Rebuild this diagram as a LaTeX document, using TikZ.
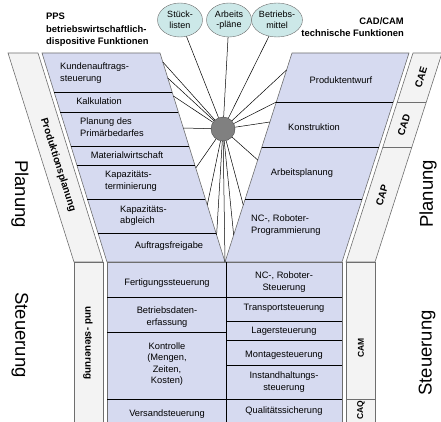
\documentclass[tikz,border=0pt]{standalone}
\usepackage{fontspec}
\setmainfont{Liberation Sans}
\usetikzlibrary{calc,shapes.geometric}
\definecolor{lilac}{RGB}{214,218,240}
\definecolor{bandc}{RGB}{243,243,243}
\definecolor{edgec}{RGB}{110,110,110}
\definecolor{tealc}{RGB}{204,232,232}
\definecolor{hubc}{RGB}{128,128,128}
\definecolor{darkc}{RGB}{70,70,70}
\begin{document}
\begin{tikzpicture}[x=1pt,y=-1pt,
  frame/.style={draw=edgec, line width=0.6pt},
  rowline/.style={draw=black, line width=0.6pt},
  lbl/.style={font=\fontsize{9.3}{11.5}\selectfont, align=center, inner sep=0pt},
  lbll/.style={lbl, align=left, anchor=west},
  bandtxt/.style={font=\bfseries\fontsize{10}{12}\selectfont, inner sep=0pt},
  smallband/.style={font=\bfseries\fontsize{8.5}{10}\selectfont, inner sep=0pt},
  bigtxt/.style={font=\fontsize{18.5}{20}\selectfont, inner sep=0pt},
  headtxt/.style={font=\bfseries\fontsize{9.4}{12.5}\selectfont, inner sep=0pt},
  ell/.style={ellipse, draw=edgec, fill=tealc, minimum width=45pt, minimum height=34pt, inner sep=0pt, align=center, font=\fontsize{9}{10.5}\selectfont},
  spoke/.style={draw=black, line width=0.5pt},
  hubst/.style={circle, draw=darkc, fill=hubc, minimum size=24pt, inner sep=0pt}]
\useasboundingbox (0,0) rectangle (441,422);
\clip (0,0) rectangle (441,422);

% ---- upper part: bands and parallelograms
\draw[frame, fill=bandc] (8,53) -- (38,53) -- (103,262) -- (74,262) -- cycle;
\draw[frame, fill=lilac] (42,53) -- (160,53) -- (225,262) -- (107,262) -- cycle;
\draw[frame, fill=lilac] (292,53) -- (409,53) -- (342,262) -- (225,262) -- cycle;
\draw[frame, fill=bandc] (413,53) -- (442,53) -- (375,262) -- (346,262) -- cycle;

\foreach \y in {92,112,146,165,199,233}
  \draw[rowline] ({42+65/209*(\y-53)},\y) -- ({160+65/209*(\y-53)},\y);
\foreach \y in {102,147,199}
  \draw[rowline] ({292-67/209*(\y-53)},\y) -- ({409-67/209*(\y-53)},\y);
\foreach \y in {102,147}
  \draw[frame] ({413-67/209*(\y-53)},\y) -- ({442-67/209*(\y-53)},\y);

% ---- lower part
\draw[frame, fill=bandc] (74,262) rectangle (103,430);
\draw[frame, fill=lilac] (107,262) rectangle (342,430);
\draw[frame, fill=bandc] (346,262) rectangle (375,430);
\draw[rowline] (226,262) -- (226,430);
\foreach \y in {297,332,399}
  \draw[rowline] (107,\y) -- (226,\y);
\foreach \y in {297,321,340,365,399}
  \draw[rowline] (226,\y) -- (342,\y);
\draw[frame] (346,399) -- (375,399);

% ---- hub, ellipses and spokes
\node[hubst] (hub) at (223,129) {};
\node[ell] (stueck) at (180,20) {Stück-\\listen};
\node[ell] (arbeit) at (229,20) {Arbeits\\-pläne};
\node[ell] (betrieb) at (277,20) {Betriebs-\\mittel};
\foreach \n in {stueck,arbeit,betrieb}
  \draw[spoke] (hub) -- (\n);
\foreach \y in {62,78,96,128,168,205,235}
  \coordinate (L\y) at ({160+65/209*(\y-53)},\y);
\foreach \y in {70,102,122,160,205,235}
  \coordinate (R\y) at ({292-67/209*(\y-53)},\y);
\coordinate (tip) at (225,262);
\foreach \y in {62,78,96,128,168,205,235}
  \draw[spoke] (hub) -- (L\y);
\foreach \y in {70,102,122,160,205,235}
  \draw[spoke] (hub) -- (R\y);
\draw[spoke] (hub) -- (tip);

% ---- headings
\node[headtxt, align=left, anchor=west] (pps) at (46,30) {PPS\\betriebswirtschaftlich-\\dispositive Funktionen};
\node[headtxt, align=right, anchor=east] (cad) at (404,27) {CAD/CAM\\technische Funktionen};

% ---- row labels upper left
\node[lbll] (t1) at (60,73) {Kundenauftrags-\\steuerung};
\node[lbl] (t2) at (99,101) {Kalkulation};
\node[lbll] (t3) at (80,127) {Planung des\\Primärbedarfes};
\node[lbl] (t4) at (127,155) {Materialwirtschaft};
\node[lbll] (t5) at (105,181) {Kapazitäts-\\terminierung};
\node[lbll] (t6) at (120,215.5) {Kapazitäts-\\abgleich};
\node[lbl] (t7) at (169,246) {Auftragsfreigabe};

% ---- row labels upper right
\node[lbl] (r1) at (341,80) {Produktentwurf};
\node[lbl] (r2) at (314,127) {Konstruktion};
\node[lbl] (r3) at (302,173) {Arbeitsplanung};
\node[lbll] (r4) at (251,225) {NC-, Roboter-\\Programmierung};

% ---- lower labels
\node[lbl] (b1) at (167,283) {Fertigungssteuerung};
\node[lbl] (b2) at (167,317) {Betriebsdaten-\\erfassung};
\node[lbl] (b3) at (167,364) {Kontrolle\\(Mengen,\\Zeiten,\\Kosten)};
\node[lbl] (b4) at (167,414) {Versandsteuerung};
\node[lbl] (c1) at (284,282) {NC-, Roboter-\\Steuerung};
\node[lbl] (c2) at (284,308) {Transportsteuerung};
\node[lbl] (c3) at (284,331) {Lagersteuerung};
\node[lbl] (c4) at (284,355) {Montagesteuerung};
\node[lbl] (c5) at (284,382) {Instandhaltungs-\\steuerung};
\node[lbl] (c6) at (284,411) {Qualitätssicherung};

% ---- band labels
\node[bandtxt, rotate=-72.5] (bpp) at (58,165) {Produktionsplanung};
\node[bandtxt, rotate=-90] (bus) at (88,343) {und -steuerung};
\node[bandtxt, rotate=72.3] (bcae) at (421,77) {CAE};
\node[bandtxt, rotate=72.3] (bcad) at (404,125) {CAD};
\node[bandtxt, rotate=72.3] (bcap) at (382,195) {CAP};
\node[smallband, rotate=90] (bcam) at (361,348) {CAM};
\node[smallband, rotate=90] (bcaq) at (361,410) {CAQ};

% ---- big side labels
\node[bigtxt, rotate=-90] (pl) at (20,194) {Planung};
\node[bigtxt, rotate=-90] (sl) at (20,335) {Steuerung};
\node[bigtxt, rotate=90] (pr) at (428,194) {Planung};
\node[bigtxt, rotate=90] (sr) at (427,353) {Steuerung};
\end{tikzpicture}
\end{document}
